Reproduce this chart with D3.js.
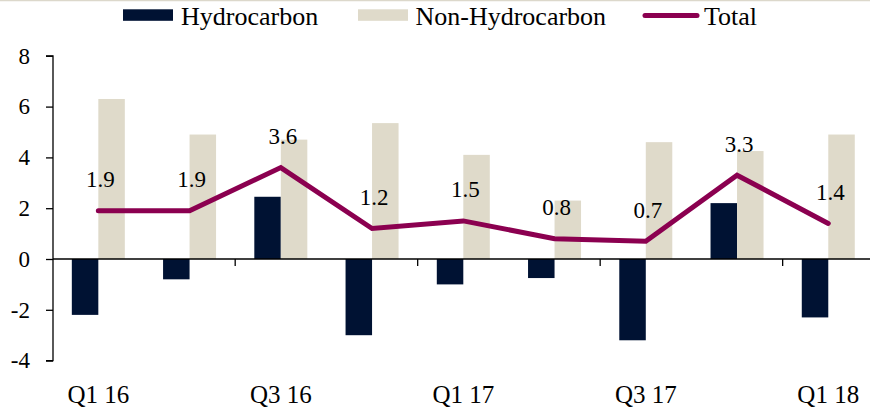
<!DOCTYPE html>
<html><head><meta charset="utf-8">
<script src="https://cdn.jsdelivr.net/npm/d3@7"></script>
<style>
html,body{margin:0;padding:0;background:#fff;}
svg{display:block;}
text{font-family:"Liberation Serif","Times New Roman",serif;fill:#000;}
</style></head>
<body><svg id="chart" width="870" height="409"></svg>
<script>
const categories = ["Q1 16","Q2 16","Q3 16","Q4 16","Q1 17","Q2 17","Q3 17","Q4 17","Q1 18"];
const hydrocarbon = [-2.2,-0.8,2.45,-3.0,-1.0,-0.75,-3.2,2.2,-2.3];
const nonHydrocarbon = [6.3,4.9,4.7,5.35,4.1,2.3,4.6,4.25,4.9];
const total = [1.9,1.9,3.6,1.2,1.5,0.8,0.7,3.3,1.4];
const totalLabels = ["1.9","1.9","3.6","1.2","1.5","0.8","0.7","3.3","1.4"];
const yTicks = [-4,-2,0,2,4,6,8];
const xLabelCats = ["Q1 16","Q3 16","Q1 17","Q3 17","Q1 18"];

const colors = {h:"#001233", n:"#DFDACA", t:"#8B0050"};
const svg = d3.select("#chart");

// top border
svg.append("line").attr("x1",0).attr("x2",870).attr("y1",0.5).attr("y2",0.5)
  .attr("stroke","#dcd8cb").attr("stroke-width",1.5);

const x = d3.scaleBand().domain(categories).range([52.7, 873.9]).paddingInner(0).paddingOuter(0);
const bw = x.bandwidth();
const barW = 26.5;
const y = d3.scaleLinear().domain([-4, 8]).range([360.6, 55.8]);

// bars
svg.append("g").selectAll("rect").data(categories).join("rect")
  .attr("x", d => x(d) + bw/2 - barW)
  .attr("width", barW)
  .attr("y", (d,i) => y(Math.max(0, hydrocarbon[i])))
  .attr("height", (d,i) => Math.abs(y(hydrocarbon[i]) - y(0)))
  .attr("fill", colors.h);
svg.append("g").selectAll("rect").data(categories).join("rect")
  .attr("x", d => x(d) + bw/2)
  .attr("width", barW)
  .attr("y", (d,i) => y(Math.max(0, nonHydrocarbon[i])))
  .attr("height", (d,i) => Math.abs(y(nonHydrocarbon[i]) - y(0)))
  .attr("fill", colors.n);

// y axis
const yAxis = d3.axisLeft(y).tickValues(yTicks).tickSize(7).tickPadding(16).tickFormat(d => String(d));
const gy = svg.append("g").attr("transform","translate(53,0)").call(yAxis);
gy.attr("font-family", null);
gy.select(".domain").attr("d", `M-7,${y(8)}H0V${y(-4)}H-7`).attr("stroke","#000").attr("stroke-width",1.3);
gy.selectAll(".tick line").attr("stroke","#000").attr("stroke-width",1.3);
gy.selectAll(".tick text").style("font-size","23px").attr("fill","#000");

// x axis at zero
const gx = svg.append("g");
gx.append("line").attr("x1",53).attr("x2",870).attr("y1",y(0)).attr("y2",y(0))
  .attr("stroke","#000").attr("stroke-width",1.3);
const tickCats = categories.filter((d,i)=> i>0 && i%2===0);
gx.selectAll("line.tk").data(tickCats).join("line").attr("class","tk")
  .attr("x1", d => x(d)).attr("x2", d => x(d))
  .attr("y1", y(0)).attr("y2", y(0)+7).attr("stroke","#000").attr("stroke-width",1.3);
gx.selectAll("text").data(xLabelCats).join("text")
  .attr("x", d => x(d) + bw/2).attr("y", 403)
  .attr("text-anchor","middle").style("font-size","25px").text(d => d);

// total line
const line = d3.line().x((d,i) => x(categories[i]) + bw/2).y(d => y(d));
svg.append("path").datum(total).attr("d", line).attr("fill","none")
  .attr("stroke", colors.t).attr("stroke-width",5).attr("stroke-linecap","round").attr("stroke-linejoin","miter");

// labels
svg.append("g").selectAll("text").data(total).join("text")
  .attr("x", (d,i) => x(categories[i]) + bw/2 + 2)
  .attr("y", d => y(d) - 23.5)
  .attr("text-anchor","middle").style("font-size","23px")
  .text((d,i) => totalLabels[i]);

// legend
const lg = svg.append("g");
lg.append("rect").attr("x",123).attr("y",9.3).attr("width",50).attr("height",11.5).attr("fill",colors.h);
lg.append("text").attr("x",181).attr("y",24.5).style("font-size","26px").text("Hydrocarbon");
lg.append("rect").attr("x",358).attr("y",9.3).attr("width",50).attr("height",11.5).attr("fill",colors.n);
lg.append("text").attr("x",415.5).attr("y",24.5).style("font-size","26px").text("Non-Hydrocarbon");
lg.append("line").attr("x1",645).attr("x2",697).attr("y1",15.5).attr("y2",15.5)
  .attr("stroke",colors.t).attr("stroke-width",5).attr("stroke-linecap","round");
lg.append("text").attr("x",704).attr("y",24.5).style("font-size","26px").text("Total");
</script></body></html>
